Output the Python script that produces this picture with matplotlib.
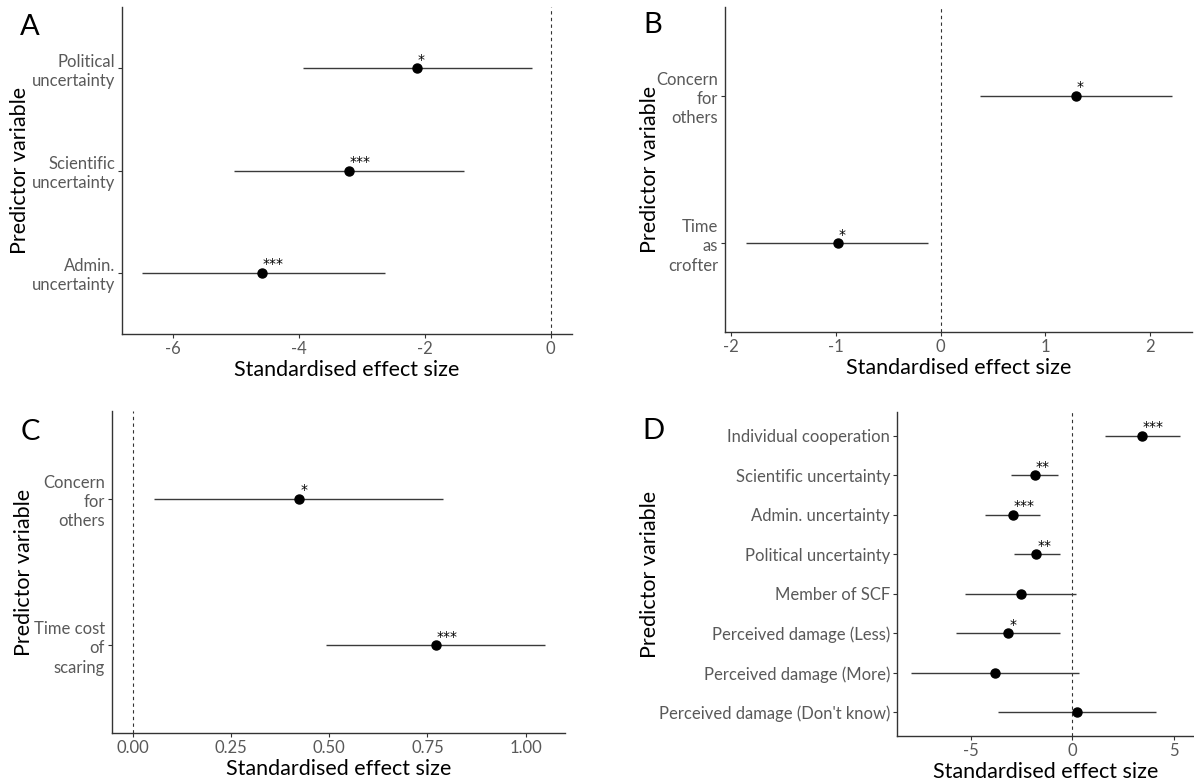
import matplotlib
matplotlib.use("Agg")
import matplotlib.pyplot as plt

plt.rcParams['font.family'] = ['Lato', 'DejaVu Sans']

# Panel A
a_labels = ["Political\nuncertainty", "Scientific\nuncertainty", "Admin.\nuncertainty"]
a_est = [-2.12, -3.21, -4.58]
a_low = [-3.93, -5.03, -6.50]
a_high = [-0.29, -1.37, -2.63]
a_sig = ["*", "***", "***"]

# Panel B
b_labels = ["Concern\nfor\nothers", "Time\nas\ncrofter"]
b_est = [1.29, -0.98]
b_low = [0.375, -1.86]
b_high = [2.205, -0.12]
b_sig = ["*", "*"]

# Panel C
c_labels = ["Concern\nfor\nothers", "Time cost\nof\nscaring"]
c_est = [0.424, 0.771]
c_low = [0.055, 0.492]
c_high = [0.79, 1.05]
c_sig = ["*", "***"]

# Panel D
d_labels = ["Individual cooperation", "Scientific uncertainty", "Admin. uncertainty",
            "Political uncertainty", "Member of SCF", "Perceived damage (Less)",
            "Perceived damage (More)", "Perceived damage (Don't know)"]
d_est = [3.45, -1.84, -2.93, -1.76, -2.50, -3.14, -3.80, 0.23]
d_low = [1.60, -3.01, -4.28, -2.88, -5.28, -5.74, -7.94, -3.65]
d_high = [5.31, -0.69, -1.60, -0.62, 0.20, -0.58, 0.33, 4.11]
d_sig = ["***", "**", "***", "**", "", "*", "", ""]

W, H = 1194, 780
fig = plt.figure(figsize=(W / 100, H / 100), dpi=100)


def px_axes(left, top, right, bottom):
    return fig.add_axes([left / W, 1 - bottom / H, (right - left) / W, (bottom - top) / H])


def forest(ax, labels, est, low, high, sig, xlim, xticks, xticklabels, ylab_x, letter_xy, letter):
    n = len(labels)
    y = list(range(n, 0, -1))
    ax.axvline(0, color='#333333', linestyle=(0, (3, 3)), linewidth=0.8, zorder=1)
    ax.hlines(y, low, high, color='#3a3a3a', linewidth=1.0, zorder=2)
    ax.plot(est, y, 'o', color='black', markersize=6.5, zorder=3)
    for xi, yi, s in zip(est, y, sig):
        if s:
            ax.annotate(s, (xi, yi), xytext=(0.5, 6), textcoords='offset points',
                        ha='left', va='center', fontsize=10, color='black',
                        family='DejaVu Sans')
    ax.set_xlim(*xlim)
    ax.set_ylim(0.4, n + 0.6)
    ax.set_yticks(y)
    ax.set_yticklabels(labels, linespacing=1.25)
    ax.set_xticks(xticks)
    ax.set_xticklabels(xticklabels)
    for side in ['top', 'right']:
        ax.spines[side].set_visible(False)
    for side in ['left', 'bottom']:
        ax.spines[side].set_color('#333333')
        ax.spines[side].set_linewidth(1.0)
    ax.tick_params(axis='both', colors='#333333', labelcolor='#595959', labelsize=12,
                   length=3, width=0.8, pad=2)
    ax.set_xlabel("Standardised effect size", fontsize=15.5, color='black', labelpad=2)
    ax.set_ylabel("Predictor variable", fontsize=15.5, color='black')
    ax.yaxis.set_label_coords(ylab_x, 0.5)
    fig.text(letter_xy[0] / W, 1 - letter_xy[1] / H, letter, fontsize=21,
             ha='center', va='center', color='black')


axA = px_axes(122, 7, 572, 334)
forest(axA, a_labels, a_est, a_low, a_high, a_sig, (-6.81, 0.34),
       [-6, -4, -2, 0], ["-6", "-4", "-2", "0"], -0.205, (30, 27), "A")

axB = px_axes(725, 7, 1192, 332)
forest(axB, b_labels, b_est, b_low, b_high, b_sig, (-2.06, 2.40),
       [-2, -1, 0, 1, 2], ["-2", "-1", "0", "1", "2"], -0.139, (653, 25), "B")

axC = px_axes(112, 411, 565, 733)
forest(axC, c_labels, c_est, c_low, c_high, c_sig, (-0.053, 1.10),
       [0, 0.25, 0.5, 0.75, 1.0], ["0.00", "0.25", "0.50", "0.75", "1.00"], -0.172, (30, 432), "C")

axD = px_axes(897, 412, 1194, 736)
forest(axD, d_labels, d_est, d_low, d_high, d_sig, (-8.63, 6.0),
       [-5, 0, 5], ["-5", "0", "5"], -0.798, (653, 431), "D")

fig.savefig("out.png", dpi=100)
